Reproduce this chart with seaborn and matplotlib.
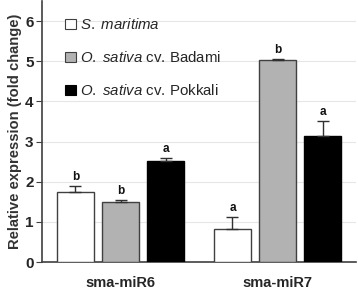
import matplotlib
matplotlib.use("Agg")
import matplotlib.pyplot as plt
import seaborn as sns
import pandas as pd
from matplotlib.patches import Patch

genes = ["sma-miR6", "sma-miR7"]
series = ["S. maritima", "O. sativa cv. Badami", "O. sativa cv. Pokkali"]
values = {
    "S. maritima": [1.75, 0.82],
    "O. sativa cv. Badami": [1.50, 5.03],
    "O. sativa cv. Pokkali": [2.52, 3.15],
}
errors = {
    "S. maritima": [0.15, 0.31],
    "O. sativa cv. Badami": [0.04, 0.03],
    "O. sativa cv. Pokkali": [0.07, 0.36],
}
letters = {
    "S. maritima": ["b", "a"],
    "O. sativa cv. Badami": ["b", "b"],
    "O. sativa cv. Pokkali": ["a", "a"],
}
legend_labels = [r"$\mathit{S.\ maritima}$",
                 r"$\mathit{O.\ sativa}$ cv. Badami",
                 r"$\mathit{O.\ sativa}$ cv. Pokkali"]
face_colors = ["#ffffff", "#b2b2b2", "#000000"]
edge_colors = ["#404040", "#404040", "#000000"]

sns.set_style("white")
plt.rcParams["font.family"] = ["Liberation Sans", "DejaVu Sans"]
plt.rcParams["mathtext.fontset"] = "custom"
plt.rcParams["mathtext.it"] = "Liberation Sans:italic"
plt.rcParams["mathtext.rm"] = "Liberation Sans"

rows = []
for s in series:
    for g, v in zip(genes, values[s]):
        rows.append({"gene": g, "series": s, "value": v})
df = pd.DataFrame(rows)

fig = plt.figure(figsize=(3.58, 2.89), dpi=100)
ax = fig.add_axes([42 / 358, 27 / 289, 314 / 358, 261 / 289])

sns.barplot(data=df, x="gene", y="value", hue="series", order=genes,
            hue_order=series, palette=face_colors, width=0.86, gap=0.16,
            ax=ax, legend=False, errorbar=None, linewidth=1.0, edgecolor="#404040",
            saturation=1)

for i, s in enumerate(series):
    cont = ax.containers[i]
    for j, bar in enumerate(cont.patches):
        bar.set_facecolor(face_colors[i])
        bar.set_edgecolor(edge_colors[i])
        bar.set_zorder(3)
        cx = bar.get_x() + bar.get_width() / 2
        h = bar.get_height()
        e = errors[s][j]
        ax.errorbar(cx, h, yerr=[[0], [e]], fmt="none", ecolor="#303030",
                    elinewidth=1.0, capsize=4, capthick=1.0, zorder=4)
        ax.text(cx, h + e + 0.07, letters[s][j], ha="center", va="bottom",
                fontsize=8.5, fontweight="bold", color="#111111")

ax.set_ylim(0, 6.5)
ax.set_xlim(-0.5, 1.5)
ax.set_yticks(range(0, 7))
ax.set_yticklabels([str(t) for t in range(0, 7)], fontsize=11, fontweight="bold")
ax.set_xticks([0, 1])
ax.set_xticklabels(genes, fontsize=10.5, fontweight="bold")
ax.set_xticks([-0.5, 0.5, 1.5], minor=True)
ax.tick_params(axis="x", which="major", length=0, pad=10)
ax.tick_params(axis="x", which="minor", length=4, color="#404040", direction="out")
ax.tick_params(axis="y", which="major", length=4, color="#404040", direction="out", left=True, pad=2)
ax.yaxis.grid(True, color="#e6e6e6", linewidth=0.8, zorder=0)
ax.set_axisbelow(True)
for sp in ["top", "right"]:
    ax.spines[sp].set_visible(False)
for sp in ["left", "bottom"]:
    ax.spines[sp].set_color("#404040")
    ax.spines[sp].set_linewidth(1.2)

ax.set_xlabel("")
ax.set_ylabel("Relative expression (fold change)", fontsize=10.6, fontweight="bold",
              color="#333333", labelpad=2)

handles = [Patch(facecolor=face_colors[i], edgecolor=edge_colors[i], linewidth=0.8)
           for i in range(3)]
leg = ax.legend(handles, legend_labels, loc="upper left", bbox_to_anchor=(0.055, 0.96),
                frameon=False, fontsize=10.8, handlelength=0.7, handleheight=0.7,
                handletextpad=0.25, labelspacing=1.2, borderaxespad=0)

fig.savefig("out.png", dpi=100)
